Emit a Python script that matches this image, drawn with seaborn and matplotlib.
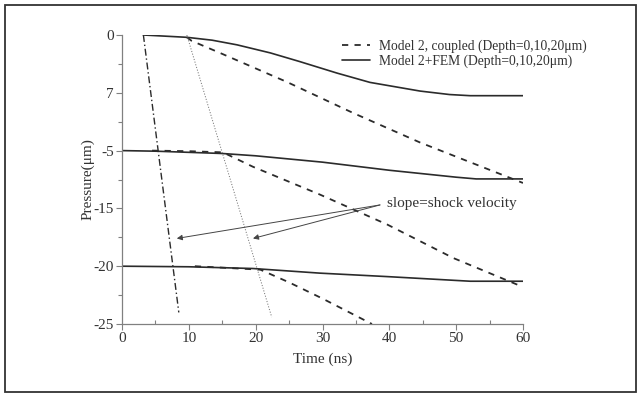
import matplotlib
matplotlib.use("Agg")
import matplotlib.pyplot as plt
import seaborn as sns
import pandas as pd
from matplotlib.patches import Rectangle

# ---- data ----
t_solid0 = [3.2, 9.7, 13.5, 17.2, 22.2, 26.6, 32.2, 37.1, 44.6, 49.0, 52.1, 60]
p_solid0 = [0.0, -0.2, -0.45, -0.85, -1.55, -2.3, -3.3, -4.1, -4.85, -5.15, -5.25, -5.25]

t_dash0 = [9.7, 10.4, 14.7, 24.7, 34.6, 44.6, 60]
p_dash0 = [-0.2, -0.5, -1.56, -4.07, -6.75, -9.3, -12.8]

t_solid10 = [0, 5, 15, 20, 30, 40, 50, 53, 60]
p_solid10 = [-10.0, -10.05, -10.25, -10.45, -11.0, -11.7, -12.3, -12.45, -12.45]

t_dash10 = [4.5, 10, 15.1, 19.6, 29.6, 39.7, 49.6, 60]
p_dash10 = [-10.0, -10.05, -10.15, -11.4, -13.8, -16.4, -19.3, -21.8]

t_solid20 = [0, 10, 19.6, 29.6, 39.7, 52.1, 60]
p_solid20 = [-20.0, -20.05, -20.2, -20.6, -20.9, -21.3, -21.3]

t_dash20 = [10.9, 20.7, 25.0, 30.0, 37.4]
p_dash20 = [-20.0, -20.3, -21.4, -22.8, -25.0]

t_shock1 = [3.2, 8.5]
p_shock1 = [0.0, -24.0]
t_shock2 = [9.7, 22.4]
p_shock2 = [0.0, -24.4]

y_ticks = [0, -5, -10, -15, -20, -25]
y_ticklabels = ["0", "7", "-5", "-15", "-20", "-25"]
x_ticks = [0, 10, 20, 30, 40, 50, 60]

legend_dashed = "Model 2, coupled (Depth=0,10,20μm)"
legend_solid = "Model 2+FEM (Depth=0,10,20μm)"
annot_text = "slope=shock velocity"
annot_tail = (38.6, -14.7)
annot_heads = [(8.2, -17.6), (19.6, -17.6)]

# ---- style ----
sns.set_style("white")
plt.rcParams["font.family"] = ["Liberation Serif", "DejaVu Serif"]
plt.rcParams["lines.scale_dashes"] = False

dark = "#2b2b2b"
fig = plt.figure(figsize=(6.39, 3.94), dpi=100)
ax = fig.add_axes([122 / 639, 1 - 324 / 394, (523 - 122) / 639, (324 - 35) / 394])

def draw(t, p, **kw):
    df = pd.DataFrame({"t": t, "p": p})
    sns.lineplot(data=df, x="t", y="p", ax=ax, sort=False, estimator=None, **kw)

dash_style = (0, (4.5, 4.5))
draw(t_dash0, p_dash0, color=dark, lw=1.3, linestyle=dash_style, label=legend_dashed)
draw(t_dash10, p_dash10, color=dark, lw=1.3, linestyle=dash_style)
draw(t_dash20, p_dash20, color=dark, lw=1.3, linestyle=dash_style)
draw(t_solid0, p_solid0, color=dark, lw=1.2, label=legend_solid)
draw(t_solid10, p_solid10, color=dark, lw=1.2)
draw(t_solid20, p_solid20, color=dark, lw=1.2)
draw(t_shock1, p_shock1, color=dark, lw=1.0, linestyle=(0, (5, 2, 1, 2)))
draw(t_shock2, p_shock2, color="#777777", lw=0.7, linestyle=(0, (0.8, 1.2)))

ax.set_xlim(0, 60)
ax.set_ylim(-25, 0)
ax.set_xticks(x_ticks)
ax.set_xticks([5, 15, 25, 35, 45, 55], minor=True)
ax.set_yticks(y_ticks)
ax.set_yticklabels(y_ticklabels)
ax.set_yticks([-2.5, -7.5, -12.5, -17.5, -22.5], minor=True)

for s in ["top", "right"]:
    ax.spines[s].set_visible(False)
for s in ["left", "bottom"]:
    ax.spines[s].set_color("#808080")
    ax.spines[s].set_linewidth(0.9)

ax.tick_params(axis="both", which="major", direction="out", length=4, width=0.8,
               color="#808080", labelsize=11, labelcolor="#333333", pad=2,
               left=True, bottom=True)
ax.tick_params(axis="x", which="minor", direction="in", length=3, width=0.8,
               color="#808080", bottom=True)
ax.tick_params(axis="y", which="minor", direction="out", length=3, width=0.8,
               color="#808080", left=True)

ax.set_xlabel("Time (ns)", fontsize=11, color="#333333", labelpad=5)
ax.set_ylabel("Pressure(μm)", fontsize=11, color="#333333", labelpad=-1)

leg = ax.legend(loc="upper left", bbox_to_anchor=(0.549, 0.983), frameon=False,
                fontsize=9.8, handlelength=2.05, handletextpad=0.66,
                labelspacing=0.1, borderaxespad=0.0, borderpad=0.0)
for txt in leg.get_texts():
    txt.set_color("#333333")

ax.text(39.7, -14.6, annot_text, fontsize=11, color="#333333", va="center", ha="left")
for head in annot_heads:
    ax.annotate("", xy=head, xytext=annot_tail,
                arrowprops=dict(arrowstyle="-|>", color="#444444", lw=0.7,
                                mutation_scale=8, shrinkA=0, shrinkB=0))

fig.patches.append(Rectangle((5 / 639, 2 / 394), (636 - 5) / 639, (392 - 5) / 394,
                             transform=fig.transFigure, fill=False,
                             edgecolor="#333333", linewidth=1.3))

fig.savefig("out.png", dpi=100)
